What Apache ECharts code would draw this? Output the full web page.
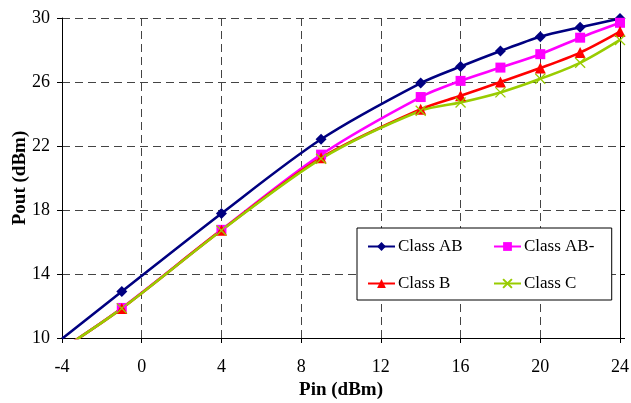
<!DOCTYPE html>
<html>
<head>
<meta charset="utf-8">
<script src="https://cdn.jsdelivr.net/npm/echarts@6/dist/echarts.min.js"></script>
<style>
  html, body { margin: 0; padding: 0; background: #fff; }
  #chart { width: 631px; height: 403px; }
</style>
</head>
<body>
<div id="chart"></div>
<script>
// Pin (dBm) sample points, first point has no marker
const pin = [-4, -1, 4, 9, 14, 16, 18, 20, 22, 24];
const classAB = [9.95, 12.9, 17.78, 22.42, 25.93, 26.97, 27.94, 28.83, 29.42, 29.97];
const classABminus = [9.3, 11.88, 16.76, 21.46, 25.06, 26.07, 26.9, 27.74, 28.77, 29.7];
const classB = [9.3, 11.85, 16.74, 21.26, 24.3, 25.14, 26.0, 26.87, 27.84, 29.15];
const classC = [9.3, 11.85, 16.72, 21.2, 24.2, 24.72, 25.35, 26.2, 27.2, 28.63];
const xTicks = [-4, 0, 4, 8, 12, 16, 20, 24];
const yTicks = [10, 14, 18, 22, 26, 30];

const FONT = "'Liberation Serif', 'Times New Roman', serif";

function toData(vals) {
  return pin.map((x, i) => (i === 0 ? { value: [x, vals[i]], symbol: "none" } : [x, vals[i]]));
}

function mkSeries(name, vals, color, symbol, size, extra) {
  return Object.assign({
    name: name,
    type: "line",
    smooth: 0.3,
    data: toData(vals),
    symbol: symbol,
    symbolSize: size,
    showAllSymbol: true,
    lineStyle: { color: color, width: 2.6 },
    itemStyle: { color: color },
    emphasis: { disabled: true },
    clip: true,
  }, extra || {});
}

const legendBase = {
  top: 228,
  orient: "vertical",
  itemGap: 20,
  itemWidth: 27,
  itemHeight: 11,
  textStyle: { fontFamily: FONT, fontSize: 17, color: "#000", padding: [0, 0, 0, -2] },
};

const chart = echarts.init(document.getElementById("chart"));
const option = {
  animation: false,
  backgroundColor: "#fff",
  grid: { left: 62, right: 11, top: 18, bottom: 65, containLabel: false, outerBoundsMode: "none" },
  xAxis: {
    type: "value",
    min: xTicks[0],
    max: xTicks[xTicks.length - 1],
    interval: 4,
    name: "Pin (dBm)",
    nameLocation: "middle",
    nameGap: 43,
    nameTextStyle: { fontFamily: FONT, fontSize: 19, fontWeight: "bold", color: "#000" },
    axisLine: { onZero: false, lineStyle: { color: "#000", width: 1 } },
    axisTick: { show: true, length: 5, lineStyle: { color: "#000" } },
    axisLabel: { fontFamily: FONT, fontSize: 18, color: "#000", margin: 20 },
    splitLine: { show: true, lineStyle: { color: "#444", type: [8, 5], width: 1 } },
  },
  yAxis: [
    {
      type: "value",
      min: yTicks[0],
      max: yTicks[yTicks.length - 1],
      interval: 4,
      name: "Pout (dBm)",
      nameLocation: "middle",
      nameGap: 32,
      nameMoveOverlap: false,
      nameTextStyle: { fontFamily: FONT, fontSize: 19, fontWeight: "bold", color: "#000" },
      axisLine: { show: true, onZero: false, lineStyle: { color: "#000", width: 1 } },
      axisTick: { show: true, length: 5, lineStyle: { color: "#000" } },
      axisLabel: { fontFamily: FONT, fontSize: 18, color: "#000", margin: 12 },
      splitLine: { show: true, lineStyle: { color: "#444", type: [8, 5], width: 1 } },
    },
    {
      type: "value",
      position: "right",
      min: yTicks[0],
      max: yTicks[yTicks.length - 1],
      interval: 4,
      axisLine: { show: true, onZero: false, lineStyle: { color: "#000", width: 1 } },
      axisTick: { show: true, length: 5, lineStyle: { color: "#000" } },
      axisLabel: { show: false },
      splitLine: { show: false },
    },
  ],
  legend: [
    Object.assign({}, legendBase, {
      left: 357,
      backgroundColor: "#fff",
      borderColor: "#000",
      borderWidth: 1,
      borderRadius: 0,
      padding: [10, 149, 8, 10],
      data: ["Class AB", "Class B"],
    }),
    Object.assign({}, legendBase, {
      left: 493,
      padding: [10, 0, 8, 0],
      data: ["Class AB-", "Class C"],
    }),
  ],
  series: [
    mkSeries("Class AB", classAB, "#000080", "diamond", 11),
    mkSeries("Class AB-", classABminus, "#ff00ff", "rect", 10),
    mkSeries("Class B", classB, "#ff0000", "triangle", 11),
    mkSeries("Class C", classC, "#99cc00", "path://M0,0L10,10M10,0L0,10", 10, {
      itemStyle: { color: "#99cc00", borderColor: "#99cc00", borderWidth: 1.3 },
    }),
  ],
};
chart.setOption(option);
window.addEventListener("resize", chart.resize);
</script>
</body>
</html>
